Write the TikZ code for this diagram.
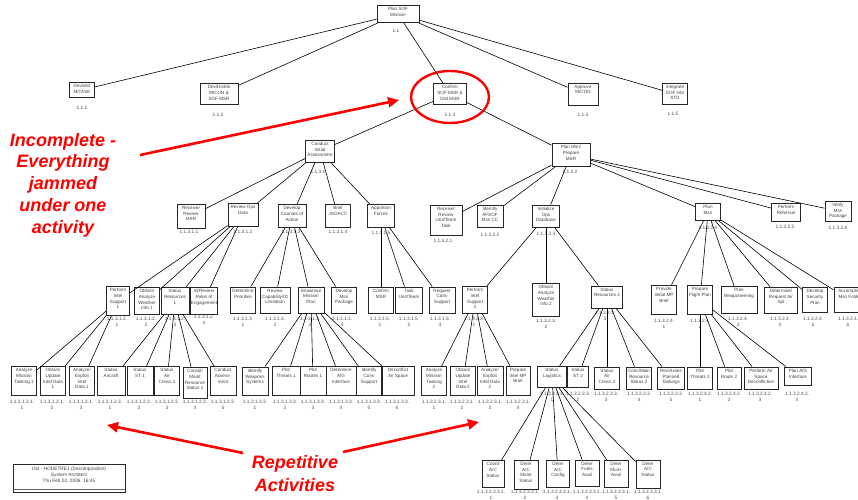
\documentclass[tikz,border=0pt]{standalone}
\usepackage{fontspec}
\setmainfont{Liberation Sans}
\usetikzlibrary{arrows.meta,shapes.geometric}
\begin{document}
\begin{tikzpicture}[x=1pt, y=-1pt,
  act/.style 2 args={draw=black!85, line width=0.9pt, rectangle, inner xsep=0pt, inner ysep=0.5pt, font=\fontsize{4.6}{5.6}\selectfont, text=black!75, execute at begin node={\begin{minipage}[t][\dimexpr#2pt-1pt\relax][t]{#1pt}\centering\vspace*{1.6pt}}, execute at end node={\end{minipage}}},
  num/.style={align=center, inner sep=0pt, font=\fontsize{4.8}{5.8}\selectfont, text=black!70},
  link/.style={line width=0.6pt},
  callout/.style={red, line width=2.6pt, -{Triangle[length=11pt, width=10pt]}},
  note/.style={red, align=center, inner sep=0pt, font=\fontsize{18}{21.7}\selectfont\bfseries\itshape}]
	\useasboundingbox (0,0) rectangle (858,499);
	% level 0 and 1
	\node[act={42}{17}] (n11) at (398,14) {Plan SOF\\Mission};
	\node[num] (l11) at (396,31) {1.1};
	\node[act={25}{15}] (n111) at (82,90) {Dev/dist\\MITASK};
	\node[num] (l111) at (82,108) {1.1.1};
	\node[act={38}{21}] (n112) at (219,94) {Dev/Distrib\\MICON \&\\SOF MSR};
	\node[num] (l112) at (218,115) {1.1.2};
	\node[act={33}{21}] (n113) at (450,94) {Confirm\\SOF MSR \&\\Dist MSR};
	\node[num] (l113) at (450,115) {1.1.3};
	\node[act={30}{22}] (n114) at (583,94) {Approve\\MICON};
	\node[num] (l114) at (583,115) {1.1.4};
	\node[act={25}{21}] (n115) at (675,94) {Integrate\\SOF into\\ATO};
	\node[num] (l115) at (673,114) {1.1.5};
	% level 2
	\node[act={29}{22}] (n1131) at (320,151) {Conduct\\Initial\\Assessment};
	\node[num] (l1131) at (318,172) {1.1.3.1};
	\node[act={38}{23}] (n1132) at (571,155) {Plan Msn/\\Prepare\\MSR};
	\node[num] (l1132) at (570,172) {1.1.3.2};
	% level 3
	\node[act={28}{24}] (n11311) at (191,216) {Receive/\\Review\\MSR};
	\node[num] (l11311) at (189,232) {1.1.3.1.1};
	\node[act={30}{23}] (n11312) at (243,215) {Review Ops\\Data};
	\node[num] (l11312) at (243,232) {1.1.3.1.2};
	\node[act={28}{23}] (n11313) at (292,216) {Develop\\Courses of\\Action};
	\node[num] (l11313) at (291,232) {1.1.3.1.3};
	\node[act={25}{23}] (n11314) at (338,216) {Brief\\JSOACC};
	\node[num] (l11314) at (338,232) {1.1.3.1.4};
	\node[act={27}{23}] (n11315) at (381,216) {Apportion\\Forces};
	\node[num] (l11315) at (381,233) {1.1.3.1.5};
	\node[act={32}{30}] (n11321) at (446,220) {Receive/\\Review\\Unit/Team\\Task};
	\node[num] (l11321) at (443,241) {1.1.3.2.1};
	\node[act={26}{22}] (n11322) at (490,216) {Identify\\AFSOF\\Msn CC};
	\node[num] (l11322) at (490,235) {1.1.3.2.2};
	\node[act={27}{22}] (n11323) at (546,216) {Initialize\\Ops\\Database};
	\node[num] (l11323) at (546,234) {1.1.3.2.3};
	\node[act={25}{17}] (n11324) at (708,212) {Plan\\Msn};
	\node[num] (l11324) at (708,228) {1.1.3.2.4};
	\node[act={29}{18}] (n11325) at (786,212) {Perform\\Rehersal};
	\node[num] (l11325) at (785,227) {1.1.3.2.5};
	\node[act={26}{20}] (n11326) at (838,211) {Verify\\Msn\\Package};
	\node[num] (l11326) at (838,228) {1.1.3.2.6};
	% level 4
	\node[act={23}{29}] (n113121) at (118,301) {Perform\\Intel\\Support\\1};
	\node[num] (l113121) at (117,322) {1.1.3.1.2.\\1};
	\node[act={25}{27}] (n113122) at (147,301) {Obtain/\\Analyze\\Weather\\Info 1};
	\node[num] (l113122) at (146,322) {1.1.3.1.2.\\2};
	\node[act={28}{27}] (n113123) at (175,301) {Status\\Resources\\1};
	\node[num] (l113123) at (175,322) {1.1.3.1.2.\\3};
	\node[act={27}{27}] (n113124) at (204,301) {Id/Review\\Rules of\\Engagement};
	\node[num] (l113124) at (204,320) {1.1.3.1.2.\\4};
	\node[act={25}{26}] (n113131) at (243,300) {Determine\\Priorities};
	\node[num] (l113131) at (243,322) {1.1.3.1.3.\\1};
	\node[act={30}{26}] (n113132) at (275,300) {Review\\Capability/ID\\Limitation};
	\node[num] (l113132) at (275,322) {1.1.3.1.3.\\2};
	\node[act={26}{26}] (n113133) at (311,300) {Strawman\\Mission\\Plan};
	\node[num] (l113133) at (310,322) {1.1.3.1.3.\\3};
	\node[act={25}{26}] (n113134) at (344,300) {Develop\\Msn\\Package};
	\node[num] (l113134) at (342,322) {1.1.3.1.3.\\4};
	\node[act={25}{26}] (n113151) at (381,300) {Confirm\\MSR};
	\node[num] (l113151) at (380,322) {1.1.3.1.5.\\1};
	\node[act={27}{26}] (n113152) at (409,300) {Task\\Unit/Team};
	\node[num] (l113152) at (409,322) {1.1.3.1.5.\\2};
	\node[act={26}{26}] (n113153) at (442,300) {Request\\Conv\\Support};
	\node[num] (l113153) at (440,322) {1.1.3.1.5.\\3};
	\node[act={25}{27}] (n113231) at (475,300) {Perform\\Intel\\Support\\2};
	\node[num] (l113231) at (474,322) {1.1.3.2.3.\\1};
	\node[act={27}{33}] (n113232) at (546,300) {Obtain/\\Analyze\\Weather\\Info 2};
	\node[num] (l113232) at (546,324) {1.1.3.2.3.\\2};
	\node[act={31}{22}] (n113233) at (607,297) {Status\\Resources 2};
	\node[num] (l113233) at (605,316) {1.1.3.2.3.\\3};
	\node[act={25}{29}] (n113241) at (664,300) {Provide\\Initial MP\\Brief};
	\node[num] (l113241) at (664,324) {1.1.3.2.4.\\1};
	\node[act={25}{29}] (n113242) at (700,300) {Prepare\\Flight Plan};
	\node[num] (l113242) at (700,324) {1.1.3.2.4.\\2};
	\node[act={36}{27}] (n113243) at (739,300) {Plan\\Weaponeering};
	\node[num] (l113243) at (738,322) {1.1.3.2.4.\\3};
	\node[act={33}{26}] (n113244) at (781,300) {Determine/\\Request Air\\Spt};
	\node[num] (l113244) at (780,322) {1.1.3.2.4.\\4};
	\node[act={25}{25}] (n113245) at (815,300) {Develop\\Security\\Plan};
	\node[num] (l113245) at (813,322) {1.1.3.2.4.\\5};
	\node[act={32}{25}] (n113246) at (850,300) {Accomplish\\Msn Folder};
	\node[num] (l113246) at (848,322) {1.1.3.2.4.\\6};
	% level 5
	\node[act={25}{29}] (n1131211) at (24,381) {Analyze\\Mission\\Tasking 1};
	\node[num] (l1131211) at (22,405) {1.1.3.1.2.1.\\1};
	\node[act={25}{29}] (n1131212) at (53,381) {Obtain/\\Update\\Intel Data\\1};
	\node[num] (l1131212) at (52,405) {1.1.3.1.2.1.\\2};
	\node[act={25}{29}] (n1131213) at (82,381) {Analyze/\\Exploit\\Intel\\Data 1};
	\node[num] (l1131213) at (81,405) {1.1.3.1.2.1.\\3};
	\node[act={28}{29}] (n1131231) at (111,381) {Status\\Aircraft};
	\node[num] (l1131231) at (110,405) {1.1.3.1.2.3.\\1};
	\node[act={26}{29}] (n1131232) at (140,381) {Status\\ST 1};
	\node[num] (l1131232) at (139,405) {1.1.3.1.2.3.\\2};
	\node[act={25}{29}] (n1131233) at (167,381) {Status\\Air\\Crews 1};
	\node[num] (l1131233) at (167,405) {1.1.3.1.2.3.\\3};
	\node[act={24}{31}] (n1131234) at (195,383) {Consol/\\Maint\\Resource\\Status 1};
	\node[num] (l1131234) at (195,405) {1.1.3.1.2.3.\\4};
	\node[act={26}{29}] (n1131235) at (223,381) {Conduct\\Assess-\\ment};
	\node[num] (l1131235) at (223,405) {1.1.3.1.2.3.\\5};
	\node[act={26}{28}] (n1131331) at (255,381) {Identify\\Weapons\\Systems};
	\node[num] (l1131331) at (255,405) {1.1.3.1.3.3.\\1};
	\node[act={28}{29}] (n1131332) at (286,381) {Plot\\Threats 1};
	\node[num] (l1131332) at (285,405) {1.1.3.1.3.3.\\2};
	\node[act={26}{29}] (n1131333) at (313,381) {Plot\\Routes 1};
	\node[num] (l1131333) at (313,405) {1.1.3.1.3.3.\\3};
	\node[act={30}{29}] (n1131334) at (341,381) {Determine\\A/G\\Interface};
	\node[num] (l1131334) at (341,405) {1.1.3.1.3.3.\\4};
	\node[act={25}{29}] (n1131335) at (369,381) {Identify\\Conv\\Support};
	\node[num] (l1131335) at (369,405) {1.1.3.1.3.3.\\5};
	\node[act={32}{29}] (n1131336) at (398,381) {Deconflict\\Air Space};
	\node[num] (l1131336) at (397,405) {1.1.3.1.3.3.\\6};
	\node[act={25}{29}] (n1132311) at (434,381) {Analyze\\Mission\\Tasking\\2};
	\node[num] (l1132311) at (434,405) {1.1.3.2.3.1.\\1};
	\node[act={25}{29}] (n1132312) at (463,381) {Obtain/\\Update\\Intel\\Data 2};
	\node[num] (l1132312) at (462,405) {1.1.3.2.3.1.\\2};
	\node[act={26}{29}] (n1132313) at (490,381) {Analyze/\\Exploit\\Intel Data\\2};
	\node[num] (l1132313) at (490,405) {1.1.3.2.3.1.\\3};
	\node[act={24}{29}] (n1132314) at (518,381) {Prepare\\Intel MP\\Brief};
	\node[num] (l1132314) at (518,405) {1.1.3.2.3.1.\\4};
	\node[act={29}{21}] (n1132331) at (552,377) {Status\\Logistics};
	\node[num] (l1132331) at (552,397) {1.1.3.2.3.3.\\1};
	\node[act={21}{21}] (n1132332) at (578,377) {Status\\ST 2};
	\node[num] (l1132332) at (578,397) {1.1.3.2.3.3.\\2};
	\node[act={25}{22}] (n1132333) at (607,378) {Status\\Air\\Crews 2};
	\node[num] (l1132333) at (606,397) {1.1.3.2.3.3.\\3};
	\node[act={25}{22}] (n1132334) at (639,378) {Cons/Main\\Resource\\Status 2};
	\node[num] (l1132334) at (639,397) {1.1.3.2.3.3.\\4};
	\node[act={27}{22}] (n1132335) at (671,378) {Rev/Asses\\Planned\\Taskings};
	\node[num] (l1132335) at (671,397) {1.1.3.2.3.3.\\5};
	\node[act={25}{22}] (n1132421) at (700,378) {Plot\\Threats 2};
	\node[num] (l1132421) at (700,397) {1.1.3.2.4.2.\\1};
	\node[act={24}{22}] (n1132422) at (729,378) {Plot\\Route 2};
	\node[num] (l1132422) at (729,397) {1.1.3.2.4.2.\\2};
	\node[act={34}{22}] (n1132423) at (761,378) {Perform Air\\Space\\Deconfliction};
	\node[num] (l1132423) at (760,397) {1.1.3.2.4.2.\\3};
	\node[act={27}{18}] (n1132424) at (798,376) {Plan A/G\\Interface};
	\node[num] (l1132424) at (797,397) {1.1.3.2.4.2.\\4};
	% level 6
	\node[act={22}{27}] (n11323311) at (493,474) {Coord\\A/C\\Status};
	\node[num] (l11323311) at (491,495) {1.1.3.2.3.3.1.\\1};
	\node[act={24}{29}] (n11323312) at (526,475) {Deter\\A/C\\Maint\\Status};
	\node[num] (l11323312) at (525,495) {1.1.3.2.3.3.1.\\2};
	\node[act={23}{27}] (n11323313) at (558,474) {Deter\\A/C\\Config};
	\node[num] (l11323313) at (557,495) {1.1.3.2.3.3.1.\\3};
	\node[act={24}{26}] (n11323314) at (587,473) {Deter\\Fuels\\Avail};
	\node[num] (l11323314) at (587,495) {1.1.3.2.3.3.1.\\4};
	\node[act={24}{27}] (n11323315) at (616,474) {Deter\\Muns\\Avail};
	\node[num] (l11323315) at (616,495) {1.1.3.2.3.3.1.\\5};
	\node[act={24}{28}] (n11323316) at (648,474) {Deter\\A/C\\Status};
	\node[num] (l11323316) at (648,495) {1.1.3.2.3.3.1.\\6};
	% connectors
	\foreach \x in {1,...,5}
	\draw[link] (n11) -- (n11\x);
	\foreach \x in {1,2}
	\draw[link] (n113) -- (n113\x);
	\foreach \x in {1,...,5}
	\draw[link] (n1131) -- (n1131\x);
	\foreach \x in {1,...,6}
	\draw[link] (n1132) -- (n1132\x);
	\foreach \x in {1,...,4}
	\draw[link] (n11312) -- (n11312\x);
	\foreach \x in {1,...,4}
	\draw[link] (n11313) -- (n11313\x);
	\foreach \x in {1,...,3}
	\draw[link] (n11315) -- (n11315\x);
	\foreach \x in {1,...,3}
	\draw[link] (n11323) -- (n11323\x);
	\foreach \x in {1,...,6}
	\draw[link] (n11324) -- (n11324\x);
	\foreach \x in {1,...,3}
	\draw[link] (n113121) -- (n113121\x);
	\foreach \x in {1,...,5}
	\draw[link] (n113123) -- (n113123\x);
	\foreach \x in {1,...,6}
	\draw[link] (n113133) -- (n113133\x);
	\foreach \x in {1,...,4}
	\draw[link] (n113231) -- (n113231\x);
	\foreach \x in {1,...,5}
	\draw[link] (n113233) -- (n113233\x);
	\foreach \x in {1,...,4}
	\draw[link] (n113242) -- (n113242\x);
	\foreach \x in {1,...,6}
	\draw[link] (n1132331) -- (n1132331\x);
	% stamp
	\node[draw=black!85, line width=0.8pt, minimum width=112pt, minimum height=28pt, inner sep=0pt] (stamp) at (69,478) {};
	\node[align=center, inner sep=0pt, text=black!75, font=\fontsize{4.8}{6}\selectfont] (stamptext) at (69,475) {Old - NODETRE1 (Decomposition)\\System Architect\\Thu Feb 02, 2006\ \ 16:45};
	\draw[black!60, line width=1pt] ([yshift=3pt]stamp.south west) -- ([yshift=3pt]stamp.south east);
	% red remarks
	\node[draw=red, line width=2.4pt, ellipse, minimum width=78pt, minimum height=52pt] (ring) at (450,97) {};
	\node[note] (incomplete) at (63,185) {Incomplete -\\Everything\\jammed\\under one\\activity};
	\node[note, font=\fontsize{18}{23}\selectfont\bfseries\itshape] (repetitive) at (295,474) {Repetitive\\Activities};
	\coordinate (inctail) at (140,155);
	\coordinate (inctip) at (399,100);
	\coordinate (reptailL) at (243,453);
	\coordinate (reptipL) at (107,425);
	\coordinate (reptailR) at (343,452);
	\coordinate (reptipR) at (479,422);
	\draw[callout] (inctail) -- (inctip);
	\draw[callout] (reptailL) -- (reptipL);
	\draw[callout] (reptailR) -- (reptipR);
\end{tikzpicture}
\end{document}
